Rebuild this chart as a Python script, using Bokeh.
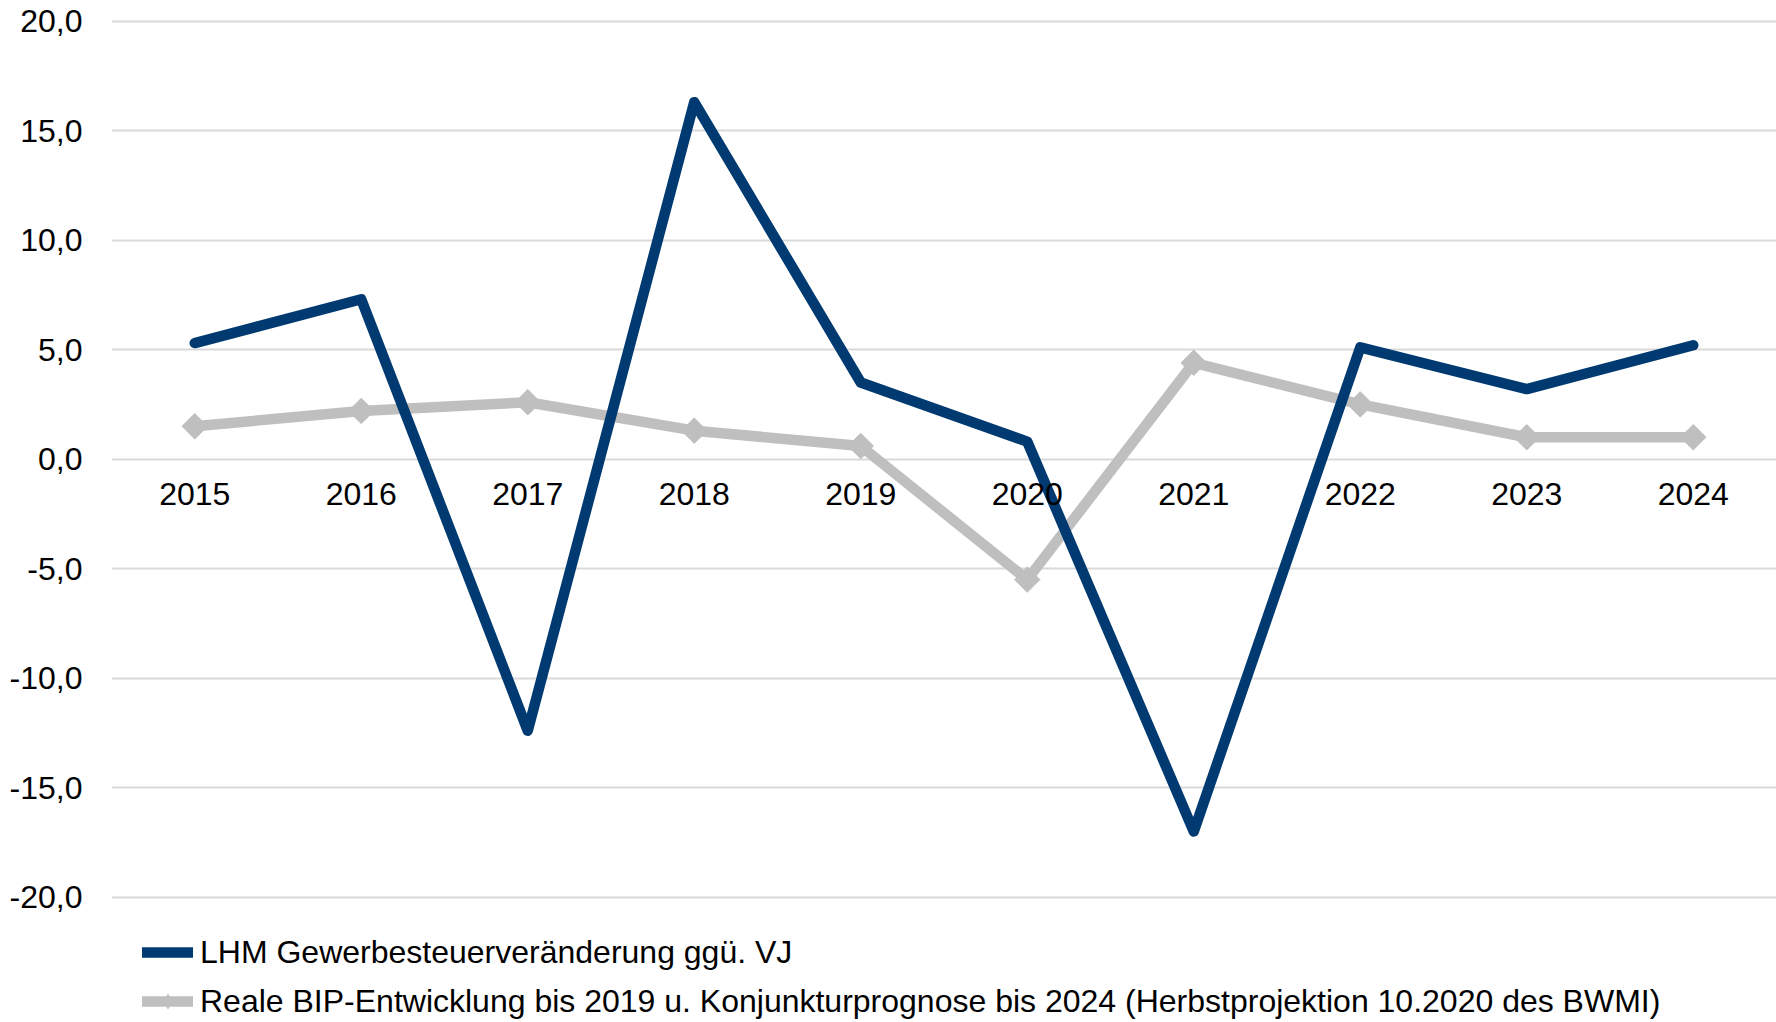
from bokeh.plotting import figure
from bokeh.models import Range1d, FixedTicker, CustomJSTickFormatter, Legend, LegendItem, ColumnDataSource
from bokeh.embed import file_html
from bokeh.resources import INLINE
import math

years = [2015, 2016, 2017, 2018, 2019, 2020, 2021, 2022, 2023, 2024]
gewerbesteuer = [5.3, 7.3, -12.4, 16.3, 3.5, 0.8, -17.0, 5.1, 3.2, 5.2]
bip = [1.5, 2.2, 2.6, 1.3, 0.6, -5.5, 4.4, 2.5, 1.0, 1.0]
y_ticks = [-20, -15, -10, -5, 0, 5, 10, 15, 20]
label_gst = "LHM Gewerbesteuerveränderung ggü. VJ"
label_bip = "Reale BIP-Entwicklung bis 2019 u. Konjunkturprognose bis 2024 (Herbstprojektion 10.2020 des BWMI)"

BLUE = "#003a70"
GRAY = "#bfbfbf"
FONT = "Liberation Sans"
FS = "32px"

src = ColumnDataSource(dict(x=years, g=gewerbesteuer, b=bip))

# lower part of the frame (below -20) is reserved for the legend
p = figure(width=1776, height=1022, output_backend="svg", toolbar_location=None,
           x_range=Range1d(2014.5, 2024.5), y_range=Range1d(-25.72, 20.21))
p.min_border_left = 111
p.min_border_right = 0
p.min_border_top = 16
p.min_border_bottom = 0
p.outline_line_color = None
p.background_fill_color = "white"
p.border_fill_color = "white"

p.xgrid.visible = False
p.ygrid.grid_line_color = "#d9d9d9"
p.ygrid.grid_line_width = 2

p.yaxis.ticker = FixedTicker(ticks=y_ticks)
p.yaxis.formatter = CustomJSTickFormatter(code="return tick.toFixed(1).replace('.', ',');")
p.yaxis.axis_line_color = None
p.yaxis.major_tick_line_color = None
p.yaxis.minor_tick_line_color = None
p.yaxis.major_tick_out = 0
p.yaxis.major_tick_in = 0
p.yaxis.major_label_standoff = 29
p.yaxis.major_label_text_font = FONT
p.yaxis.major_label_text_font_size = FS
p.yaxis.major_label_text_color = "black"

p.xaxis.ticker = FixedTicker(ticks=years)
p.xaxis.fixed_location = 0
p.xaxis.axis_line_color = None
p.xaxis.major_tick_line_color = None
p.xaxis.minor_tick_line_color = None
p.xaxis.major_tick_out = 0
p.xaxis.major_tick_in = 0
p.xaxis.major_label_standoff = 24
p.xaxis.major_label_text_font = FONT
p.xaxis.major_label_text_font_size = FS
p.xaxis.major_label_text_color = "black"

r_bip_line = p.line("x", "b", source=src, line_color=GRAY, line_width=10.5,
                    line_join="round", line_cap="round")
r_bip_pts = p.scatter("x", "b", source=src, marker="square", angle=math.pi / 4,
                      size=18, fill_color=GRAY, line_color=GRAY)
r_gst = p.line("x", "g", source=src, line_color=BLUE, line_width=10.5,
               line_join="round", line_cap="round")
# zero-size diamonds: invisible in the plot, but give the legend a diamond symbol
r_bip_leg = p.scatter("x", "b", source=src, marker="diamond", size=0,
                      fill_color=GRAY, line_color=None)

legend = Legend(items=[LegendItem(label=label_gst, renderers=[r_gst]),
                       LegendItem(label=label_bip, renderers=[r_bip_line, r_bip_leg])],
                location=(31, 1), orientation="vertical",
                label_text_font=FONT, label_text_font_size=FS, label_text_color="black",
                glyph_width=51, glyph_height=40, label_height=40, label_standoff=7,
                spacing=9, padding=0, margin=0,
                border_line_color=None, background_fill_alpha=0)
p.add_layout(legend, "center")

open("out.html", "w").write(file_html(p, INLINE))
